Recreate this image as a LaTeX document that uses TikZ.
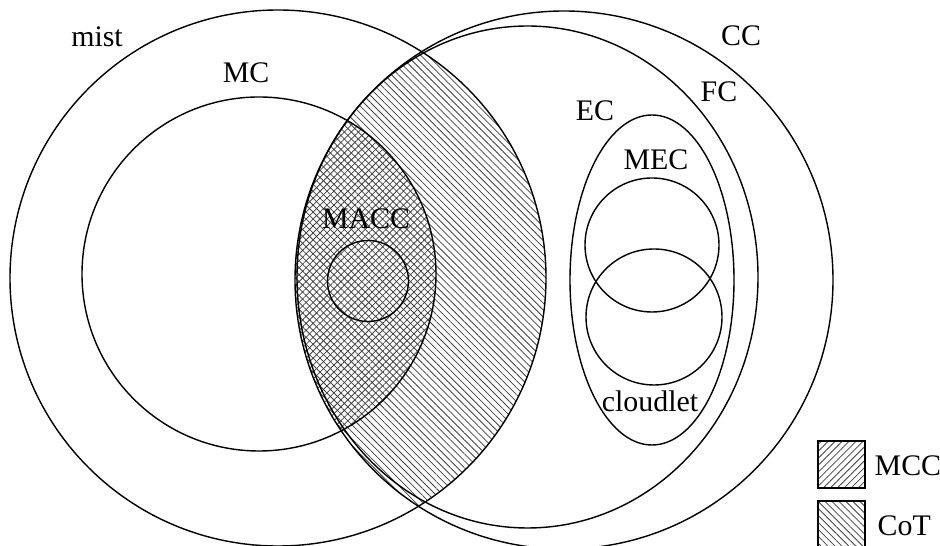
\documentclass[tikz,border=0pt]{standalone}
\usepackage{fontspec}
\setmainfont{Liberation Serif}
\usetikzlibrary{patterns.meta}

\begin{document}
\begin{tikzpicture}[x=0.02cm, y=-0.02cm, line width=0.8pt,
    lbl/.style={inner sep=0pt, font=\fontsize{17}{20}\selectfont},
    mcchatch/.style={pattern={Lines[angle=45, distance=2.8pt, line width=0.45pt]}, pattern color=black!75},
    cothatch/.style={pattern={Lines[angle=-45, distance=2.8pt, line width=0.45pt]}, pattern color=black!75}]

    % --- 0. Frame (picture size in px) ---
    \useasboundingbox (0,0) rectangle (940,546);
    \clip (0,0) rectangle (940,546);

    % Centres of the sets
    \coordinate (mistC) at (278,278);
    \coordinate (mcC)   at (259,274);
    \coordinate (ccC)   at (564,280);
    \coordinate (fcC)   at (527.5,277);
    \coordinate (ecC)   at (652,280);
    \coordinate (maccC) at (368,281);
    \coordinate (mecC)  at (652,245);
    \coordinate (cldC)  at (654,317);

    % --- 1. Hatched regions ---
    % CoT = mist meets CC
    \begin{scope}
        \clip (mistC) circle (268);
        \fill[cothatch] (ccC) circle (269);
    \end{scope}
    % MCC = MC meets CC (gives the cross hatch)
    \begin{scope}
        \clip (mcC) circle (177);
        \fill[mcchatch] (ccC) circle (269);
    \end{scope}

    % --- 2. Left side: mist, MC, MACC ---
    \draw (mistC) circle (268);
    \draw (mcC) circle (177);
    \draw (maccC) circle (40.5);

    % --- 3. Right side: CC, FC, EC, MEC, cloudlet ---
    \draw (ccC) circle (269);
    \draw (fcC) ellipse (230.5 and 251);
    \draw (ecC) ellipse (82 and 165);
    \draw (mecC) circle (67);
    \draw (cldC) circle (68);

    % --- 4. Labels ---
    \node[lbl] (mist) at (97,37) {mist};
    \node[lbl] (mc) at (246,73) {MC};
    \node[lbl] (macc) at (366,219) {MACC};
    \node[lbl] (cc) at (741,36) {CC};
    \node[lbl] (fc) at (719,92) {FC};
    \node[lbl] (ec) at (595,111) {EC};
    \node[lbl] (mec) at (656,160) {MEC};
    \node[lbl] (cloudlet) at (650,401) {cloudlet};

    % --- 5. Legend ---
    \draw[mcchatch, line width=1pt] (818,441) rectangle (865,488);
    \node[lbl, anchor=west] (mcc) at (874,466) {MCC};
    \draw[cothatch, line width=1pt] (818,501) rectangle (865,548);
    \node[lbl, anchor=west] (cot) at (877,526) {CoT};

\end{tikzpicture}
\end{document}
